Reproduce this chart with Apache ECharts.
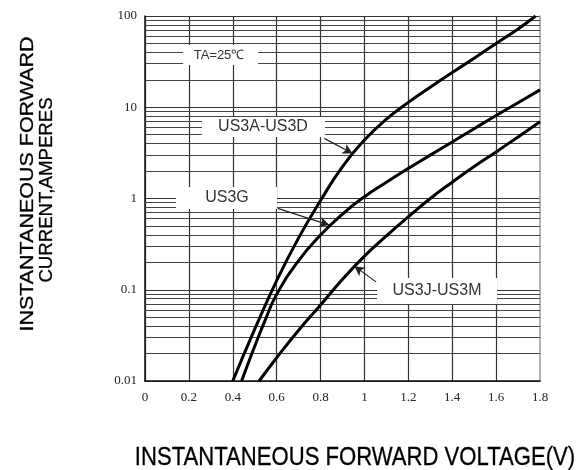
<!DOCTYPE html>
<html>
<head>
<meta charset="utf-8">
<script src="https://cdn.jsdelivr.net/npm/echarts@6/dist/echarts.min.js"></script>
<style>html,body{margin:0;padding:0;background:#fff}#c{width:579px;height:470px}</style>
</head>
<body>
<div id="c"></div>
<script>
// X ticks (volts)
const xTicks = [0, 0.2, 0.4, 0.6, 0.8, 1, 1.2, 1.4, 1.6, 1.8];
// Y tick labels (amperes, log)
const yTickLabels = ['0.01', '0.1', '1', '10', '100'];

// US3A-US3D
const us3aV = [0.40, 0.50, 0.60, 0.70, 0.80, 0.90, 1.0, 1.1, 1.2, 1.3, 1.4, 1.5, 1.6, 1.7, 1.78];
const us3aI = [0.01, 0.037, 0.126, 0.37, 0.95, 2.24, 4.37, 7.4, 11.3, 16.6, 24.0, 34.5, 50, 72, 100];
// US3G
const us3gV = [0.44, 0.50, 0.55, 0.60, 0.70, 0.80, 0.90, 1.0, 1.1, 1.2, 1.3, 1.4, 1.5, 1.6, 1.7, 1.8];
const us3gI = [0.01, 0.024, 0.048, 0.089, 0.209, 0.398, 0.676, 1.047, 1.51, 2.14, 2.99, 4.17, 5.82, 8.13, 11.2, 15.5];
// US3J-US3M
const us3jV = [0.52, 0.6, 0.7, 0.8, 0.9, 1.0, 1.1, 1.2, 1.3, 1.4, 1.5, 1.6, 1.7, 1.8];
const us3jI = [0.01, 0.018, 0.036, 0.068, 0.13, 0.234, 0.389, 0.631, 1.0, 1.51, 2.24, 3.24, 4.73, 6.92];

// annotation arrows [fromV, fromI, toV, toI]
const arrowA = [0.817, 4.56, 0.946, 3.12];
const arrowG = [0.605, 0.779, 0.840, 0.511];
const arrowJ = [1.053, 0.122, 0.954, 0.1815];

const zip = (a, b) => a.map((v, i) => [v, b[i]]);
const minorVals = [];
[0.01, 0.1, 1, 10].forEach(d => { for (let k = 2; k <= 9; k++) minorVals.push(+(k * d).toPrecision(3)); });

const chart = echarts.init(document.getElementById('c'), null, {renderer: 'canvas'});
const curveStyle = {color: '#000', width: 3};
const lblFont = '"Liberation Sans", Arial, sans-serif';

function box(x, y, w, h, text, size, tx, ty) {
  return [
    {type: 'rect', z: 50, shape: {x: x, y: y, width: w, height: h}, style: {fill: '#fff'}},
    {type: 'text', z: 51, x: tx, y: ty, style: {text: text, fontSize: size, fontFamily: lblFont, fill: '#333', align: 'center', verticalAlign: 'middle', textAlign: 'center', textVerticalAlign: 'middle'}}
  ];
}
function title(text, x, y, size, rot, sx) {
  return {type: 'text', z: 51, x: x, y: y, rotation: rot, scaleX: sx,
    style: {text: text, fontSize: size, fontFamily: lblFont, fill: '#000', stroke: '#000', lineWidth: 0.3,
      align: 'center', verticalAlign: 'middle', textAlign: 'center', textVerticalAlign: 'middle'}};
}

chart.setOption({
  animation: false,
  backgroundColor: '#fff',
  grid: {left: 145, right: 39, top: 16, bottom: 89, containLabel: false},
  xAxis: {
    type: 'value', min: 0, max: 1.8, interval: 0.2,
    axisLine: {show: true, lineStyle: {color: '#111', width: 1.5}},
    axisTick: {show: false},
    axisLabel: {margin: 10, fontFamily: '"Liberation Serif", serif', fontSize: 13, color: '#222',
      formatter: v => { const t = xTicks.find(x => Math.abs(x - v) < 1e-6); return t === undefined ? '' : String(t); }},
    splitLine: {show: true, showMaxLine: false, lineStyle: {color: '#333', width: 1.2}}
  },
  yAxis: [{
    type: 'log', logBase: 10, min: 0.01, max: 100,
    axisLine: {show: true, lineStyle: {color: '#111', width: 1.5}},
    axisTick: {show: false},
    axisLabel: {margin: 8, fontFamily: '"Liberation Serif", serif', fontSize: 13, color: '#222',
      formatter: v => { const e = Math.round(Math.log10(v)); return yTickLabels[e + 2] || ''; }},
    splitLine: {show: true, lineStyle: {color: '#333', width: 1.2}}
  }, {
    type: 'log', logBase: 10, min: 0.01, max: 100, position: 'right',
    axisLine: {show: true, lineStyle: {color: '#999', width: 1.5}},
    axisTick: {show: false}, axisLabel: {show: false}, splitLine: {show: false}
  }],
  series: [
    {type: 'line', name: 'US3J-US3M', z: 3, data: zip(us3jV, us3jI), smooth: 0.5, showSymbol: false, symbol: 'none', lineStyle: curveStyle,
      markLine: {silent: true, z: 1, symbol: 'none', label: {show: false}, animation: false,
        lineStyle: {color: '#444', width: 1.1, type: 'solid'},
        data: minorVals.map(v => ({yAxis: v}))}},
    {type: 'line', name: 'US3G', z: 3, data: zip(us3gV, us3gI), smooth: 0.5, showSymbol: false, symbol: 'none', lineStyle: curveStyle},
    {type: 'line', name: 'US3A-US3D', z: 3, data: zip(us3aV, us3aI), smooth: 0.5, showSymbol: false, symbol: 'none', lineStyle: curveStyle,
      markLine: {silent: true, z: 6, symbol: ['none', 'arrow'], symbolSize: [8, 10], label: {show: false}, animation: false,
        lineStyle: {color: '#222', width: 1.2, type: 'solid'},
        data: [arrowA, arrowG, arrowJ].map(a => [{coord: [a[0], a[1]]}, {coord: [a[2], a[3]]}])}}
  ],
  graphic: [
    ...box(183, 45, 75, 20, 'TA=25℃', 13, 219, 55),
    ...box(202, 117, 123, 20, 'US3A-US3D', 16, 263, 127),
    ...box(176, 187, 101, 22, 'US3G', 16, 227, 198),
    ...box(377, 278, 120, 26, 'US3J-US3M', 16, 437, 291),
    title('INSTANTANEOUS FORWARD', 28, 184, 19, Math.PI / 2, 1.13),
    title('CURRENT,AMPERES', 47, 190, 19, Math.PI / 2, 0.98),
    title('INSTANTANEOUS FORWARD VOLTAGE(V)', 355, 458, 26, 0, 0.85)
  ]
});
</script>
</body>
</html>
